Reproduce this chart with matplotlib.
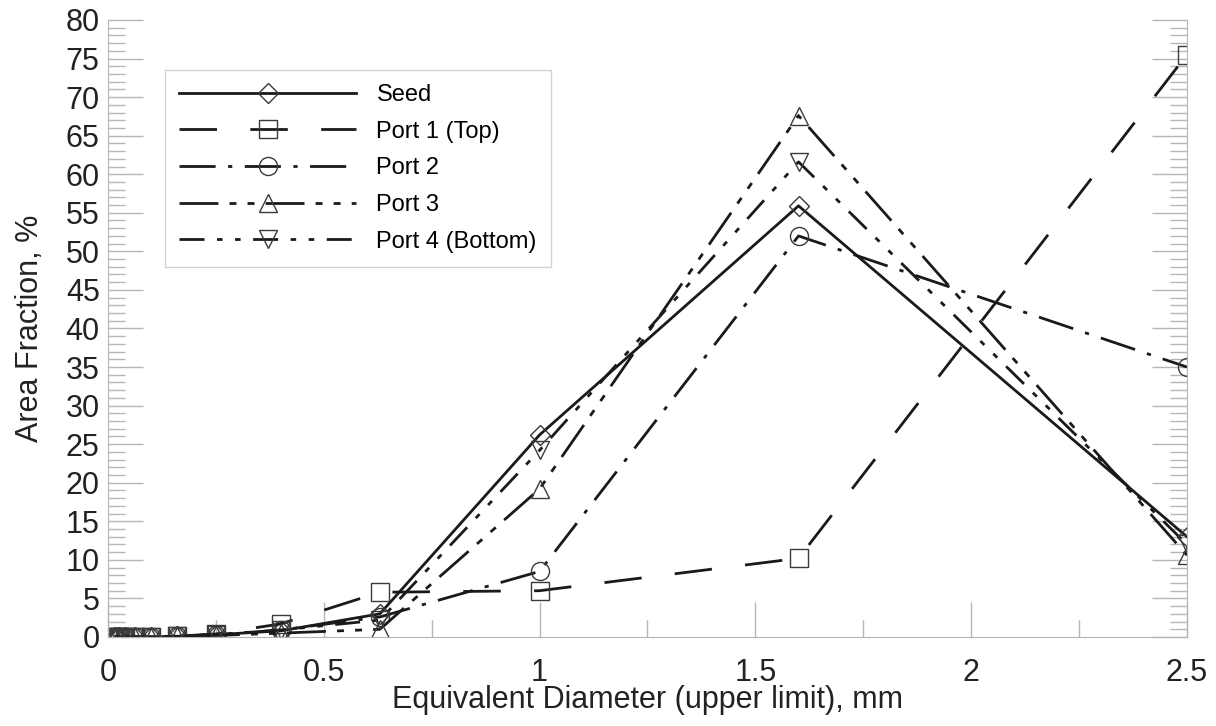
import numpy as np
import matplotlib
matplotlib.use('Agg')
import matplotlib.pyplot as plt
from matplotlib.ticker import MultipleLocator, FuncFormatter

# Particle size distribution
diameter = [0.016, 0.025, 0.04, 0.063, 0.1, 0.16, 0.25, 0.4, 0.63, 1.0, 1.6, 2.5]

seed = [0, 0, 0, 0, 0, 0.1, 0.3, 0.8, 3.0, 26.2, 55.9, 13.0]
port1 = [0, 0, 0, 0, 0, 0.1, 0.4, 1.7, 5.8, 6.0, 10.2, 75.5]
port2 = [0, 0, 0, 0, 0, 0.1, 0.3, 0.9, 2.6, 8.5, 52.0, 35.0]
port3 = [0, 0, 0, 0, 0, 0.1, 0.2, 0.5, 1.0, 19.2, 67.6, 10.6]
port4 = [0, 0, 0, 0, 0, 0.1, 0.3, 0.9, 2.2, 24.2, 61.6, 12.0]

labels = ['Seed', 'Port 1 (Top)', 'Port 2', 'Port 3', 'Port 4 (Bottom)']

plt.rcParams['font.family'] = ['Liberation Sans', 'DejaVu Sans']
plt.rcParams['lines.scale_dashes'] = False

fig = plt.figure(figsize=(12.16, 7.26), dpi=100)
ax = fig.add_axes([0.0888, 0.1226, 0.8873, 0.8499])

# marker, dash pattern (points), marker size
styles = [
    ('D', None, 10),
    ('s', (0, (27, 24)), 13),
    ('o', (0, (26, 9, 3, 9)), 13),
    ('^', (0, (28, 8, 5, 8, 5, 8)), 13),
    ('v', (0, (18, 9, 4, 9, 4, 9)), 13),
]

for vals, lab, (mk, ls, ms) in zip([seed, port1, port2, port3, port4], labels, styles):
    line, = ax.plot(diameter, vals, color='#1a1a1a', lw=2.0, marker=mk,
                    markersize=ms, markerfacecolor='none',
                    markeredgecolor='#3a3a3a', markeredgewidth=1.0, label=lab)
    if ls is not None:
        line.set_linestyle(ls)

ax.set_xlim(0, 2.5)
ax.set_ylim(0, 80)
ax.xaxis.set_major_locator(MultipleLocator(0.5))
ax.xaxis.set_minor_locator(MultipleLocator(0.25))
ax.yaxis.set_major_locator(MultipleLocator(5))
ax.yaxis.set_minor_locator(MultipleLocator(1))
ax.xaxis.set_major_formatter(FuncFormatter(lambda v, p: '%g' % v))

gray = '#b5b5b5'
ax.tick_params(axis='both', which='both', direction='in', color=gray, width=1,
               labelsize=22, labelcolor='#222222')
ax.tick_params(axis='y', which='both', left=True, right=True)
ax.tick_params(axis='both', which='major', length=25)
ax.tick_params(axis='both', which='minor', length=12.5)
ax.tick_params(axis='x', which='major', pad=15)
ax.tick_params(axis='y', which='major', pad=6)

for side in ['left', 'right', 'bottom']:
    ax.spines[side].set_color(gray)
ax.spines['top'].set_visible(False)

ax.set_xlabel('Equivalent Diameter (upper limit), mm', fontsize=22, labelpad=-2, color='#222222')
ax.set_ylabel('Area Fraction, %', fontsize=22, labelpad=15, color='#222222')

leg = ax.legend(loc='upper left', bbox_to_anchor=(0.053, 0.919), borderaxespad=0,
                fontsize=17, handlelength=7.5, handletextpad=0.85, labelspacing=0.62,
                fancybox=False, frameon=True, borderpad=0.6)
leg.get_frame().set_edgecolor('#c8c8c8')
leg.get_frame().set_linewidth(1.0)

fig.savefig('out.png', dpi=100)
